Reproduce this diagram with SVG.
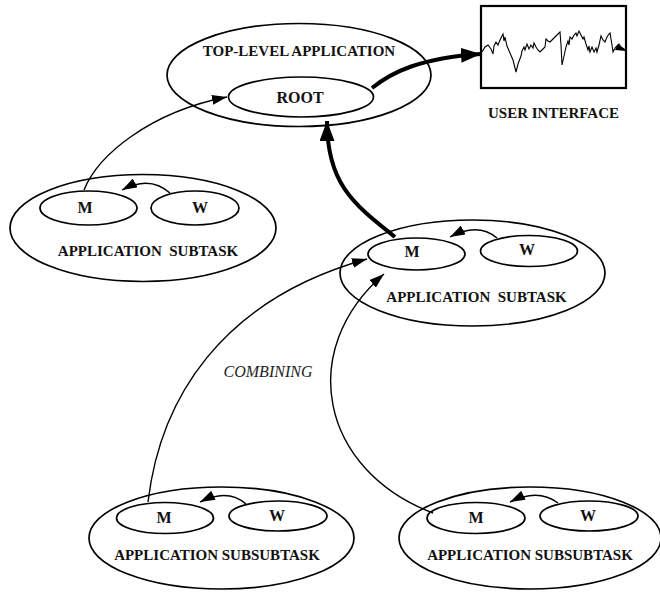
<svg xmlns="http://www.w3.org/2000/svg" width="660" height="592" viewBox="0 0 660 592">
<style>
.node{fill:none;stroke:#000;stroke-width:1.7}
.lbl{font-family:"Liberation Serif","Times New Roman",serif;font-weight:bold;font-size:15px;fill:#111;text-anchor:middle}
.big{font-size:16px}
.it{font-family:"Liberation Serif","Times New Roman",serif;font-style:italic;font-size:16px;fill:#222;text-anchor:middle}
.thin{fill:none;stroke:#000;stroke-width:1.4;marker-end:url(#ah)}
.thick{fill:none;stroke:#000;stroke-width:4;marker-end:url(#ahb)}
</style>
<defs>
<marker id="ah" markerUnits="userSpaceOnUse" markerWidth="15" markerHeight="10" refX="15" refY="5" orient="auto">
<path d="M0,0 L15,5 L0,10 z" fill="#000"/>
</marker>
<marker id="ahb" markerUnits="userSpaceOnUse" markerWidth="20" markerHeight="15" refX="20" refY="7.5" orient="auto">
<path d="M0,0 L20,7.5 L0,15 z" fill="#000"/>
</marker>
</defs>
<rect width="660" height="592" fill="#fff"/>

<g id="top-level-application">
<ellipse class="node" cx="299" cy="75" rx="132" ry="51.5"/>
<text class="lbl" x="299" y="56">TOP-LEVEL APPLICATION</text>
</g>
<g id="root">
<ellipse class="node" cx="301" cy="97" rx="72.5" ry="20"/>
<text class="lbl big" x="300" y="103">ROOT</text>
</g>
<g id="user-interface">
<rect x="481" y="6" width="145" height="82" fill="none" stroke="#000" stroke-width="2.2"/>
<polyline fill="none" stroke="#000" stroke-width="1.1" stroke-linejoin="miter" points="482,52 485,47 488,45 491,49 493,54 494,46 496,42 498,45 500,40 503,34 504,41 505,37 507,46 510,53 513,60 516,72 518,64 521,56 522,51 524,47 525,50 527,44 529,49 531,45 533,48 534,43 536,47 538,50 540,52 542,50 545,47 546,39 548,41 550,42 552,40 555,37 557,35 560,32 561,45 562,65 564,56 566,47 568,41 569,45 570,37 572,39 574,35 576,33 577,36 579,31 581,35 583,39 584,37 586,44 588,50 589,46 590,52 592,47 594,52 596,48 597,52 599,45 601,36 603,40 605,42 607,37 609,34 610,33 612,45 613,52 615,48 617,46 619,44 621,47 624,49 626,52"/>
<polygon points="618,44 626,51 615,50" fill="#000"/>
<text class="lbl" x="553.5" y="118">USER INTERFACE</text>
</g>

<g id="subtask-left">
<ellipse class="node" cx="143" cy="228" rx="133" ry="53.5"/>
<text class="lbl" x="148" y="256" xml:space="preserve">APPLICATION  SUBTASK</text>
</g>
<g id="m-left">
<ellipse class="node" cx="88.5" cy="208" rx="48.5" ry="17"/>
<text class="lbl big" x="85" y="213">M</text>
</g>
<g id="w-left">
<ellipse class="node" cx="195" cy="208" rx="44" ry="17"/>
<text class="lbl big" x="200" y="213">W</text>
</g>

<g id="subtask-middle">
<ellipse class="node" cx="472.5" cy="273" rx="132.5" ry="53"/>
<text class="lbl" x="476.5" y="302" xml:space="preserve">APPLICATION  SUBTASK</text>
</g>
<g id="m-middle">
<ellipse class="node" cx="416.5" cy="254" rx="48.5" ry="16"/>
<text class="lbl big" x="412" y="257">M</text>
</g>
<g id="w-middle">
<ellipse class="node" cx="529" cy="251" rx="48.5" ry="15.5"/>
<text class="lbl big" x="527" y="255">W</text>
</g>

<g id="subsubtask-left">
<ellipse class="node" cx="221.5" cy="538" rx="132.5" ry="51"/>
<text class="lbl" x="217" y="560">APPLICATION SUBSUBTASK</text>
</g>
<g id="m-bottom-left">
<ellipse class="node" cx="165" cy="518" rx="48.5" ry="15.5"/>
<text class="lbl big" x="164" y="523">M</text>
</g>
<g id="w-bottom-left">
<ellipse class="node" cx="278" cy="516" rx="49" ry="15"/>
<text class="lbl big" x="277" y="521">W</text>
</g>

<g id="subsubtask-right">
<ellipse class="node" cx="530" cy="538" rx="131" ry="51"/>
<text class="lbl" x="530" y="560">APPLICATION SUBSUBTASK</text>
</g>
<g id="m-bottom-right">
<ellipse class="node" cx="476" cy="518" rx="49" ry="15.5"/>
<text class="lbl big" x="476" y="523">M</text>
</g>
<g id="w-bottom-right">
<ellipse class="node" cx="589" cy="516" rx="49" ry="15"/>
<text class="lbl big" x="588" y="521">W</text>
</g>

<g id="connectors">
<path class="thin" d="M84,190 C98,155 150,112 227,97"/>
<path class="thin" d="M170,193 Q150,175 122,190"/>
<path class="thin" d="M497,238 Q478,222 450,237"/>
<path class="thin" d="M246,504 Q228,488 200,502"/>
<path class="thin" d="M558,503 Q538,488 510,502"/>
<path class="thin" d="M148,502 C160,400 220,300 367,259"/>
<path class="thin" d="M433,513 C320,470 296,350 384,274"/>
<path class="thick" d="M395,237 C355,205 327,185 327,121"/>
<path class="thick" d="M372,88 C392,72 420,58 481,54"/>
<text class="it" x="268" y="377">COMBINING</text>
</g>
</svg>
